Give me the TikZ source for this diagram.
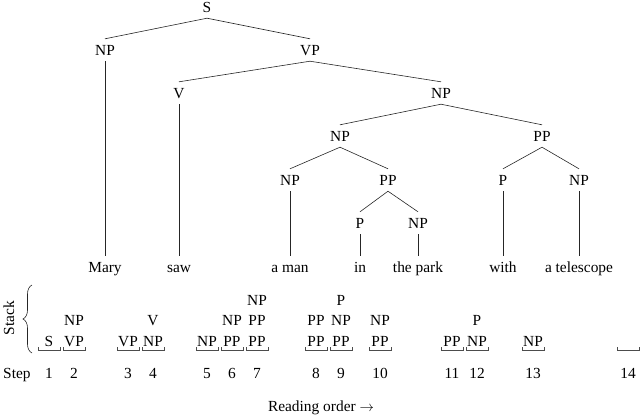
\documentclass[tikz,border=0pt]{standalone}
\usepackage{fontspec}
\setmainfont{Liberation Serif}
\newfontfamily\timesfont{Liberation Serif}
\usetikzlibrary{decorations.pathreplacing}
\begin{document}
\begin{tikzpicture}[x=1pt,y=-1pt,
  lab/.style={font=\timesfont\fontsize{15.4}{18}\selectfont, text height=10.2pt, text depth=0pt, inner xsep=1pt, inner ysep=5.9pt},
  txt/.style={font=\timesfont\fontsize{15.4}{18}\selectfont, inner sep=0pt, text height=10.2pt, text depth=0pt},
  edge/.style={line width=0.6pt, draw=black!85},
  brk/.style={line width=0.6pt, draw=black!70}]
\useasboundingbox (0,0) rectangle (640,418);
% tree
\node[lab] (S) at (207,7) {S};
\node[lab] (NPa) at (105,50) {NP};
\node[lab] (VP) at (310,50) {VP};
\node[lab] (V) at (179,93) {V};
\node[lab] (NPb) at (441,93) {NP};
\node[lab] (NPc) at (340,136) {NP};
\node[lab] (PPa) at (542,136) {PP};
\node[lab] (NPd) at (290,180) {NP};
\node[lab] (PPb) at (388,180) {PP};
\node[lab] (Pa) at (503,180) {P};
\node[lab] (NPe) at (579,180) {NP};
\node[lab] (Pb) at (360,223) {P};
\node[lab] (NPf) at (418,223) {NP};
\node[lab] (w1) at (105,267) {Mary};
\node[lab] (w2) at (179,267) {saw};
\node[lab] (w3) at (290,267) {a man};
\node[lab] (w4) at (360,267) {in};
\node[lab] (w5) at (418,267) {the park};
\node[lab] (w6) at (503,267) {with};
\node[lab] (w7) at (579,267) {a telescope};
\foreach \a/\b in {S/NPa,S/VP,VP/V,VP/NPb,NPb/NPc,NPb/PPa,NPc/NPd,NPc/PPb,PPa/Pa,PPa/NPe,PPb/Pb,PPb/NPf,NPa/w1,V/w2,NPd/w3,Pb/w4,NPf/w5,Pa/w6,NPe/w7}
  \draw[edge] (\a.south) -- (\b.north);
% stack label and brace
\node[txt, rotate=90] (stack) at (9,318) {Stack};
\draw[edge, decorate, decoration={brace, amplitude=9pt}] (32,353) -- (32,285);
\node[txt, anchor=west] (step) at (3,373) {Step};
% steps
\foreach \n/\x in {1/49,2/74,3/128,4/153,5/207,6/232,7/257,8/316,9/341,10/380,11/452,12/477,13/533,14/628}{
  \node[txt] (n\n) at (\x,373) {\n};
  \draw[brk] (\x-11,347) -- (\x-11,350) -- (\x+11,350) -- (\x+11,347);
}
% stack contents: bottom row 341, middle 320.5, top 300
\foreach \x/\t in {49/S,74/VP,128/VP,153/NP,207/NP,232/PP,257/PP,316/PP,341/PP,380/PP,452/PP,477/NP,533/NP}
  \node[txt] at (\x,341) {\t};
\foreach \x/\t in {74/NP,153/V,232/NP,257/PP,316/PP,341/NP,380/NP,477/P}
  \node[txt] at (\x,320.5) {\t};
\foreach \x/\t in {257/NP,341/P}
  \node[txt] at (\x,300) {\t};
\node[txt] (reading) at (321,406) {Reading order $\rightarrow$};
\end{tikzpicture}
\end{document}
